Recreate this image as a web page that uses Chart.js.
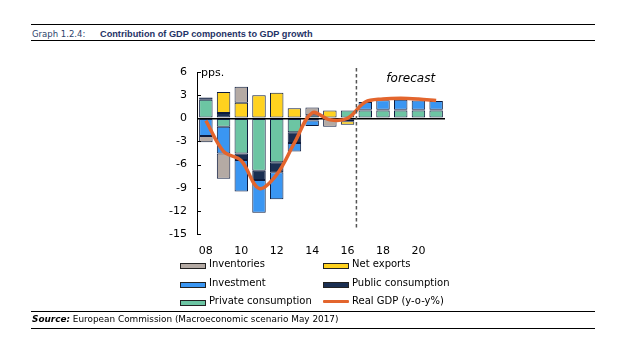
<!DOCTYPE html>
<html>
<head>
<meta charset="utf-8">
<script src="https://cdn.jsdelivr.net/npm/chart.js@4"></script>
<style>
  body { margin: 0; background: #fff; width: 618px; height: 337px; overflow: hidden; position: relative; }
  #chart { position: absolute; left: 0; top: 0; }
  .rule { position: absolute; left: 31px; width: 564px; height: 0; border-top: 1.2px solid #000; }
  .txt { position: absolute; white-space: nowrap; font-family: "DejaVu Sans", sans-serif; }
  .legend-item { position: absolute; font-family: "DejaVu Sans", sans-serif; font-size: 10px; color: #000; white-space: nowrap; }
  .sw { position: absolute; left: 0; top: 5px; width: 24px; height: 4px; border: 1px solid #222; }
  .ln { position: absolute; left: 0; top: 5px; width: 26px; height: 3px; background: #e3652d; border-radius: 1px; }
  .legend-item span.lab { position: absolute; left: 29px; top: 0; }
</style>
</head>
<body>
<div class="rule" style="top:24px"></div>
<div class="txt" style="left:32px; top:29px; font-size:8.5px; color:#2d3f6b;">Graph 1.2.4:</div>
<div class="txt" style="left:100px; top:29px; font-size:9.2px; color:#1f3366; font-weight:bold; font-family:'Liberation Sans',sans-serif;">Contribution of GDP components to GDP growth</div>
<div class="rule" style="top:40px"></div>

<canvas id="chart" width="618" height="337"></canvas>

<div id="legend"></div>

<div class="rule" style="top:311px"></div>
<div class="txt" style="left:32px; top:314px; font-size:8.9px; color:#000;"><b><i>Source:</i></b> European Commission (Macroeconomic scenario May 2017)</div>
<div class="rule" style="top:328px"></div>

<script>
// years 2008-2021, shown as two digits
const years = ['08', '09', '10', '11', '12', '13', '14', '15', '16', '17', '18', '19', '20', '21'];

// contributions in pps. (null = no segment)
const privateConsumption = [2.4, -1.1, -4.55, -6.8, -5.7, -1.8, 0.4, null, 1.0, 1.0, 1.0, 1.0, 1.0, 1.0];
const publicConsumption = [0.3, 0.7, -0.85, -1.2, -1.3, -1.4, -0.3, null, -0.2, 0.1, 0.1, 0.1, 0.1, 0.1];
const investment = [-2.3, -3.45, -4.1, -4.25, -3.5, -1.1, -0.7, null, -0.2, 1.0, 1.25, 1.3, 1.2, 1.15];
const netExports = [null, 2.7, 2.0, 3.0, 3.3, 1.3, null, 1.0, -0.45, null, null, null, null, null];
const inventories = [-0.8, -3.3, 2.1, null, null, null, 1.0, -1.1, null, null, null, null, null, null];
const realGDP = [-0.3, -4.3, -5.5, -9.1, -7.3, -3.2, 0.7, -0.2, 0.0, 2.1, 2.5, 2.6, 2.5, 2.3];

const yTicks = [-15, -12, -9, -6, -3, 0, 3, 6];
const forecastStart = 9; // index of 2017

const border = '#0d1b3e';
const font = { family: 'DejaVu Sans', size: 11 };

function barSet(label, data, color) {
  return {
    type: 'bar', label: label, data: data, backgroundColor: color,
    borderColor: border, borderWidth: 1, borderSkipped: false,
    categoryPercentage: 1, barPercentage: 0.76, order: 1
  };
}

const datasets = [
  barSet('Private consumption', privateConsumption, '#6cc5a3'),
  barSet('Public consumption', publicConsumption, '#1a2f52'),
  barSet('Investment', investment, '#3a96f2'),
  barSet('Net exports', netExports, '#ffd21f'),
  barSet('Inventories', inventories, '#b4aaa4'),
  {
    type: 'line', label: 'Real GDP (y-o-y%)', data: realGDP, stack: 'gdp',
    borderColor: '#e3652d', borderWidth: 3.5, pointRadius: 0, tension: 0.35,
    fill: false, order: 0
  }
];

// extra drawing: inward y ticks, forecast divider, annotations
const extras = {
  id: 'extras',
  afterDraw(chart) {
    const ctx = chart.ctx;
    const area = chart.chartArea;
    const x = chart.scales.x, y = chart.scales.y;
    ctx.save();
    ctx.strokeStyle = '#000';
    ctx.lineWidth = 1;
    yTicks.forEach(v => {
      const py = Math.round(y.getPixelForValue(v)) + 0.5;
      ctx.beginPath();
      ctx.moveTo(area.left, py);
      ctx.lineTo(area.left + 4, py);
      ctx.stroke();
    });
    const dx = (x.getPixelForValue(forecastStart - 1) + x.getPixelForValue(forecastStart)) / 2;
    ctx.strokeStyle = '#555';
    ctx.lineWidth = 1.5;
    ctx.setLineDash([3.5, 2.5]);
    ctx.beginPath();
    ctx.moveTo(dx, area.top - 4);
    ctx.lineTo(dx, area.bottom - 5);
    ctx.stroke();
    ctx.setLineDash([]);
    ctx.fillStyle = '#000';
    ctx.textBaseline = 'middle';
    ctx.font = 'italic 12px "DejaVu Sans"';
    ctx.textAlign = 'center';
    ctx.fillText('forecast', x.getPixelForValue(11) + 10, area.top + 7);
    ctx.font = '11px "DejaVu Sans"';
    ctx.textAlign = 'left';
    ctx.fillText('pps.', area.left + 4, area.top + 1);
    ctx.restore();
  }
};

new Chart(document.getElementById('chart'), {
  data: { labels: years, datasets: datasets },
  options: {
    responsive: false,
    animation: false,
    layout: { padding: { left: 167, top: 72, right: 173, bottom: 78 } },
    plugins: { legend: { display: false }, tooltip: { enabled: false } },
    scales: {
      x: {
        stacked: true,
        grid: { display: false },
        border: { display: false },
        ticks: {
          autoSkip: false, maxRotation: 0, padding: 3, color: '#000', font: font,
          callback: (v, i) => (i % 2 === 0 ? years[i] : '')
        },
        afterFit: s => { s.height = 25; }
      },
      y: {
        stacked: true,
        min: -15, max: 6,
        border: { display: true, color: '#000', width: 1 },
        grid: {
          drawTicks: false,
          color: c => (c.tick.value === 0 ? '#000' : 'rgba(0,0,0,0)'),
          lineWidth: c => (c.tick.value === 0 ? 1.5 : 0)
        },
        ticks: { stepSize: 3, padding: 10, color: '#000', font: font },
        afterFit: s => { s.width = 30; }
      }
    }
  },
  plugins: [extras]
});

// two-column legend
const legendItems = [
  { label: 'Inventories', color: '#b4aaa4', col: 0, row: 0 },
  { label: 'Net exports', color: '#ffd21f', col: 1, row: 0 },
  { label: 'Investment', color: '#3a96f2', col: 0, row: 1 },
  { label: 'Public consumption', color: '#1a2f52', col: 1, row: 1 },
  { label: 'Private consumption', color: '#6cc5a3', col: 0, row: 2 },
  { label: 'Real GDP (y-o-y%)', line: true, col: 1, row: 2 }
];
const legend = document.getElementById('legend');
legendItems.forEach(it => {
  const d = document.createElement('div');
  d.className = 'legend-item';
  d.style.left = (it.col === 0 ? 180 : 323) + 'px';
  d.style.top = (258 + it.row * 18.5) + 'px';
  const sw = document.createElement('div');
  if (it.line) { sw.className = 'ln'; } else { sw.className = 'sw'; sw.style.background = it.color; }
  d.appendChild(sw);
  const lab = document.createElement('span');
  lab.className = 'lab';
  lab.textContent = it.label;
  d.appendChild(lab);
  legend.appendChild(d);
});
</script>
</body>
</html>
